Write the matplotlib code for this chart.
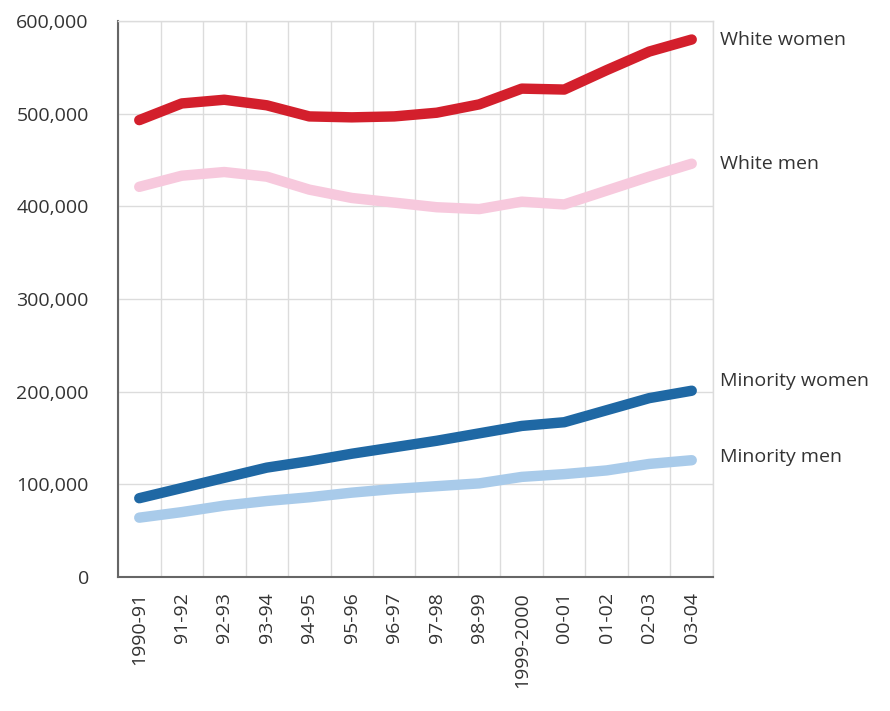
import matplotlib.pyplot as plt
from matplotlib.ticker import FuncFormatter

# data
years = ["1990-91", "91-92", "92-93", "93-94", "94-95", "95-96", "96-97",
         "97-98", "98-99", "1999-2000", "00-01", "01-02", "02-03", "03-04"]
white_women = [493000, 511000, 515000, 509000, 497000, 496000, 497000,
               501000, 510000, 527000, 526000, 547000, 567000, 580000]
white_men = [421000, 433000, 437000, 432000, 418000, 409000, 404000,
             399000, 397000, 405000, 402000, 417000, 432000, 446000]
minority_women = [85000, 96000, 107000, 118000, 125000, 133000, 140000,
                  147000, 155000, 163000, 167000, 180000, 193000, 201000]
minority_men = [64000, 70000, 77000, 82000, 86000, 91000, 95000,
                98000, 101000, 108000, 111000, 115000, 122000, 126000]

plt.rcParams['font.family'] = ['Open Sans', 'DejaVu Sans']
text_col = '#333333'

fig = plt.figure(figsize=(8.9, 7.11), dpi=100)
ax = fig.add_axes([0.1326, 0.1885, 0.6685, 0.782])

series = [
    ("White women", white_women, '#d31f2c', (20, 0)),
    ("White men", white_men, '#f7c9dd', (20, 0)),
    ("Minority women", minority_women, '#1f68a4', (20, 7)),
    ("Minority men", minority_men, '#a9cbea', (20, 2)),
]

x = list(range(len(years)))
for name, vals, col, off in series:
    ax.plot(x, vals, color=col, linewidth=7.5, solid_capstyle='round',
            solid_joinstyle='round', zorder=3)
    ax.annotate(name, xy=(x[-1], vals[-1]), xytext=off, textcoords='offset points',
                ha='left', va='center', fontsize=14, color=text_col,
                annotation_clip=False)

ax.set_xlim(-0.5, len(years) - 0.5)
ax.set_ylim(0, 600000)
ax.set_xticks(x)
ax.set_xticklabels(years, rotation=90, va='top', ha='center')
ax.set_yticks(range(0, 600001, 100000))
ax.yaxis.set_major_formatter(FuncFormatter(lambda v, p: f"{int(v):,}"))

# grid lines sit on the category boundaries
ax.set_xticks([i + 0.5 for i in range(-1, len(years))], minor=True)
ax.grid(True, which='minor', axis='x', color='#dcdcdc', linewidth=1)
ax.grid(True, which='major', axis='y', color='#dcdcdc', linewidth=1)
ax.set_axisbelow(True)

ax.tick_params(axis='both', which='both', length=0, colors=text_col, labelsize=14)
ax.tick_params(axis='y', pad=21)
ax.tick_params(axis='x', pad=11)

for side in ['top', 'right']:
    ax.spines[side].set_color('#dcdcdc')
    ax.spines[side].set_linewidth(1)
for side in ['left', 'bottom']:
    ax.spines[side].set_color('#666666')
    ax.spines[side].set_linewidth(1.5)

fig.savefig('out.png', dpi=100, facecolor='white')
